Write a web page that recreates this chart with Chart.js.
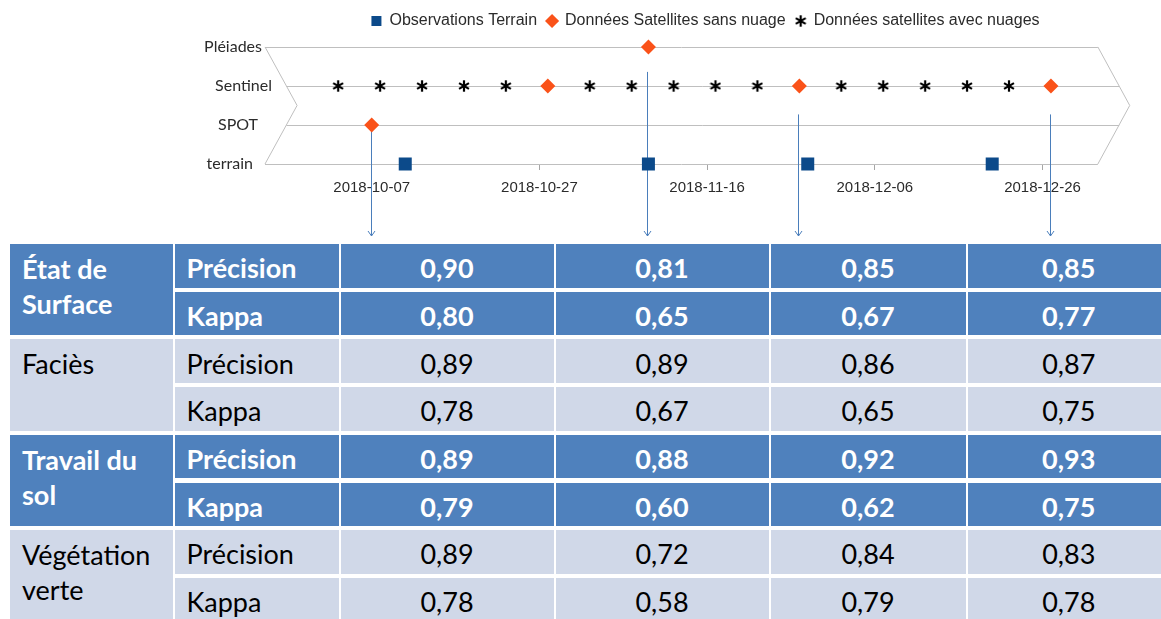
<!DOCTYPE html>
<html><head><meta charset="utf-8">
<script src="https://cdn.jsdelivr.net/npm/chart.js@4/dist/chart.umd.min.js"></script>
<style>
html,body{margin:0;padding:0;background:#fff;}
#wrap{position:relative;width:1161px;height:619px;overflow:hidden;background:#fff;}
#chartBox{position:absolute;left:0;top:0;width:1161px;height:244px;}
#tbl{position:absolute;left:0;top:0;width:1161px;height:619px;pointer-events:none;}
.cell{position:absolute;box-sizing:border-box;font-family:Lato,"Open Sans",sans-serif;font-size:27px;display:flex;align-items:center;white-space:nowrap;padding-top:4px;}
.blue{background:#4f81bd;color:#fff;font-weight:bold;}
.light{background:#d0d8e8;color:#000;}
.left{justify-content:flex-start;padding-left:12px;}
.center{justify-content:center;}
.theme{align-items:flex-start;white-space:pre-line;line-height:35px;padding-top:7px;}
</style></head>
<body><div id="wrap"><div id="chartBox"><canvas id="c"></canvas></div><div id="tbl"></div></div>
<script>
// ---------- data ----------
const rowLabels = ['terrain', 'SPOT', 'Sentinel', 'Pléiades'];
const tickDates = ['2018-10-07', '2018-10-27', '2018-11-16', '2018-12-06', '2018-12-26'];
const terrainDates = ['2018-10-11', '2018-11-09', '2018-11-28', '2018-12-20'];
const spotClearDates = ['2018-10-07'];
const sentinelClearDates = ['2018-10-28', '2018-11-27', '2018-12-27'];
const pleiadesClearDates = ['2018-11-09'];
const sentinelCloudyDates = ['2018-10-03', '2018-10-08', '2018-10-13', '2018-10-18', '2018-10-23',
  '2018-11-02', '2018-11-07', '2018-11-12', '2018-11-17', '2018-11-22',
  '2018-12-02', '2018-12-07', '2018-12-12', '2018-12-17', '2018-12-22'];
const arrowDates = ['2018-10-07', '2018-11-09', '2018-11-27', '2018-12-27'];
const legendLabels = ['Observations Terrain', 'Données Satellites sans nuage', 'Données satellites avec nuages'];

const themes = ['État de\nSurface', 'Faciès', 'Travail du\nsol', 'Végétation\nverte'];
const metrics = ['Précision', 'Kappa'];
const etatPrecision = [0.90, 0.81, 0.85, 0.85];
const etatKappa = [0.80, 0.65, 0.67, 0.77];
const faciesPrecision = [0.89, 0.89, 0.86, 0.87];
const faciesKappa = [0.78, 0.67, 0.65, 0.75];
const travailPrecision = [0.89, 0.88, 0.92, 0.93];
const travailKappa = [0.79, 0.60, 0.62, 0.75];
const vegetPrecision = [0.89, 0.72, 0.84, 0.83];
const vegetKappa = [0.78, 0.58, 0.79, 0.78];

// ---------- helpers ----------
const DAY = 86400000;
const toDay = s => Date.UTC(+s.slice(0, 4), +s.slice(5, 7) - 1, +s.slice(8, 10)) / DAY;
const fmtDay = d => new Date(Math.round(d) * DAY).toISOString().slice(0, 10);
const origin = toDay(tickDates[0]);
const pts = (dates, row) => dates.map(d => ({ x: toDay(d), y: row }));

function makeStar(size, lw) {
  const c = document.createElement('canvas');
  c.width = size; c.height = size;
  const g = c.getContext('2d');
  g.strokeStyle = '#000'; g.lineWidth = lw;
  const r = size / 2 - 0.3, cx = size / 2, cy = size / 2;
  for (let k = 0; k < 3; k++) {
    const a = Math.PI / 2 + k * Math.PI / 3;
    g.beginPath();
    g.moveTo(cx + r * Math.cos(a), cy + r * Math.sin(a));
    g.lineTo(cx - r * Math.cos(a), cy - r * Math.sin(a));
    g.stroke();
  }
  return c;
}
const star = makeStar(12, 2.2);

const timelinePlugin = {
  id: 'timeline',
  beforeDatasetsDraw(chart, args, o) {
    const ctx = chart.ctx, xs = chart.scales.x, ys = chart.scales.y;
    const X = d => xs.getPixelForValue(origin + d);
    const Y = r => ys.getPixelForValue(r);
    const f = o.frame;
    const t = r => 1 - Math.abs(r - 1.5) / 1.5;
    const leftAt = r => X(f.outerLeft + (f.innerLeft - f.outerLeft) * t(r));
    const rightAt = r => X(f.outerRight + (f.tip - f.outerRight) * t(r));
    ctx.save();
    ctx.lineWidth = 1;
    ctx.strokeStyle = o.lineColor;
    rowLabels.forEach((lab, r) => {
      const y = Math.round(Y(r)) + 0.5;
      ctx.beginPath(); ctx.moveTo(leftAt(r), y); ctx.lineTo(rightAt(r), y); ctx.stroke();
    });
    ctx.strokeStyle = o.frameColor;
    ctx.beginPath();
    ctx.moveTo(X(f.outerLeft), Y(3)); ctx.lineTo(X(f.innerLeft), Y(1.5)); ctx.lineTo(X(f.outerLeft), Y(0));
    ctx.moveTo(X(f.outerRight), Y(3)); ctx.lineTo(X(f.tip), Y(1.5)); ctx.lineTo(X(f.outerRight), Y(0));
    ctx.stroke();
    // row labels
    ctx.fillStyle = o.labelColor;
    ctx.font = o.labelFont;
    ctx.textAlign = 'right'; ctx.textBaseline = 'middle';
    rowLabels.forEach((lab, r) => ctx.fillText(lab, o.labelRight[r], Y(r)));
    // arrows
    ctx.strokeStyle = o.arrowColor; ctx.lineWidth = 1;
    arrowDates.forEach((d, i) => {
      const x = Math.round(xs.getPixelForValue(toDay(d))) - 0.5;
      const y0 = Y(o.arrowStart[i]), y1 = o.arrowEnd;
      ctx.beginPath(); ctx.moveTo(x, y0); ctx.lineTo(x, y1); ctx.stroke();
      ctx.beginPath(); ctx.moveTo(x - 3.5, y1 - 5); ctx.lineTo(x, y1); ctx.lineTo(x + 3.5, y1 - 5); ctx.stroke();
    });
    ctx.restore();
  }
};

const padL = 265, padR = 15;
new Chart(document.getElementById('c'), {
  type: 'scatter',
  data: {
    datasets: [
      { label: legendLabels[0], data: pts(terrainDates, 0), pointStyle: 'rect', pointRadius: 9.2, pointHoverRadius: 9.2,
        backgroundColor: '#0c4a8a', borderColor: '#0c4a8a', borderWidth: 0, clip: false },
      { label: legendLabels[1], data: [...pts(pleiadesClearDates, 3), ...pts(sentinelClearDates, 2), ...pts(spotClearDates, 1)],
        pointStyle: 'rectRot', pointRadius: 7.5, pointHoverRadius: 7.5,
        backgroundColor: '#fa5219', borderColor: '#fa5219', borderWidth: 0, clip: false },
      { label: legendLabels[2], data: pts(sentinelCloudyDates, 2), pointStyle: star, pointRadius: 6,
        backgroundColor: '#000', borderColor: '#000', borderWidth: 0, clip: false }
    ]
  },
  options: {
    responsive: true, maintainAspectRatio: false, animation: false,
    layout: { padding: { left: padL, right: padR, top: 3, bottom: 0 } },
    scales: {
      x: {
        type: 'linear', min: origin - 12.725, max: origin + 92.34,
        afterBuildTicks: s => { s.ticks = tickDates.map(d => ({ value: toDay(d) })); },
        afterFit: s => { s.height = 80; },
        ticks: { callback: v => fmtDay(v), autoSkip: false, maxRotation: 0, padding: 9,
          font: { family: '"Liberation Sans", Arial, sans-serif', size: 15 }, color: '#2b2b2b' },
        grid: { drawOnChartArea: false, drawTicks: true, tickLength: 6, color: '#a6a6a6' },
        border: { display: false }
      },
      y: { type: 'linear', min: 0, max: 3.203, display: false }
    },
    plugins: {
      legend: {
        position: 'top',
        labels: { usePointStyle: true, boxWidth: 10, boxHeight: 10, padding: 10, color: '#2b2b2b',
          font: { family: '"Liberation Sans", Arial, sans-serif', size: 16 } }
      },
      tooltip: { enabled: false },
      timeline: {
        frame: { outerLeft: -12.725, innerLeft: -8.9, outerRight: 86.6, tip: 90.4 },
        lineColor: '#bfbfbf', frameColor: '#bfbfbf', labelColor: '#2b2b2b',
        labelFont: '16px Lato, "Open Sans", sans-serif',
        labelRight: [253, 258, 272, 262],
        arrowColor: '#4a7ebb', arrowStart: [1, 2.36, 1.27, 1.27], arrowEnd: 236
      }
    }
  },
  plugins: [timelinePlugin]
});

// ---------- table ----------
const tableRows = [
  [etatPrecision, etatKappa], [faciesPrecision, faciesKappa],
  [travailPrecision, travailKappa], [vegetPrecision, vegetKappa]
];
const colL = [10, 174.5, 340.5, 555.5, 770.5, 967.5];
const colR = [172.5, 338.5, 553.5, 768.5, 965.5, 1170];
const top0 = 244, pitch = 47.7, rowH = 43.5;
const tbl = document.getElementById('tbl');
function cell(cls, l, t, w, h, text) {
  const d = document.createElement('div');
  d.className = 'cell ' + cls;
  d.style.left = l + 'px'; d.style.top = t + 'px'; d.style.width = w + 'px'; d.style.height = h + 'px';
  d.textContent = text;
  tbl.appendChild(d);
}
const fmtVal = v => v.toFixed(2).replace('.', ',');
tableRows.forEach((grp, g) => {
  const tone = g % 2 === 0 ? 'blue' : 'light';
  const gTop = top0 + 2 * g * pitch;
  cell(tone + ' theme left', colL[0], gTop, colR[0] - colL[0], pitch + rowH, themes[g]);
  grp.forEach((vals, m) => {
    const t = gTop + m * pitch;
    cell(tone + ' left', colL[1], t, colR[1] - colL[1], rowH, metrics[m]);
    vals.forEach((v, k) => cell(tone + ' center', colL[2 + k], t, colR[2 + k] - colL[2 + k], rowH, fmtVal(v)));
  });
});
</script>
</body></html>
